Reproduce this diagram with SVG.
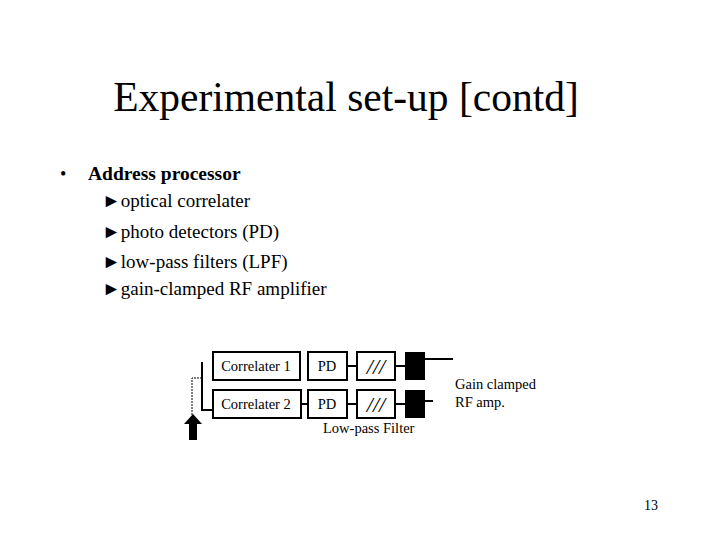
<svg xmlns="http://www.w3.org/2000/svg" width="720" height="540" viewBox="0 0 720 540">
<style>
text{font-family:"Liberation Serif",serif;fill:#000}
.b{fill:#fff;stroke:#000;stroke-width:2}
.k{fill:#000}
.l{stroke:#000;stroke-width:2;fill:none}
.s{font-size:14.5px}
.f{font-size:22px;font-style:italic}
.m{font-size:19px}
</style>
<rect width="720" height="540" fill="#fff"/>
<text x="346" y="111" font-size="41.5" text-anchor="middle">Experimental set-up [contd]</text>
<text x="60" y="180" font-size="18">•</text>
<text x="88" y="180" font-size="19.5" font-weight="bold">Address processor</text>
<text class="m" x="102" y="207">►optical correlater</text>
<text class="m" x="102" y="238">►photo detectors (PD)</text>
<text class="m" x="102" y="268">►low-pass filters (LPF)</text>
<text class="m" x="102" y="295">►gain-clamped RF amplifier</text>
<g id="connectors">
<path class="l" d="M202 362V410H213"/>
<path d="M192 415V378H202" stroke="#000" stroke-width="1" stroke-dasharray="2,1" fill="none"/>
<path class="l" d="M300 404H308M347 366H357M347 404H357M395 366H405M395 404H405M425 359H453M425 401H433"/>
</g>
<g id="arrow"><polygon class="k" points="193,414 184,424 189,424 189,440 197,440 197,424 202,424"/></g>
<g id="corr1"><rect class="b" x="213" y="352" width="87" height="28"/><text class="s" x="256" y="371" text-anchor="middle">Correlater 1</text></g>
<g id="corr2"><rect class="b" x="213" y="390" width="88" height="28"/><text class="s" x="256" y="409" text-anchor="middle">Correlater 2</text></g>
<g id="pd1"><rect class="b" x="308" y="352" width="39" height="28"/><text class="s" x="327" y="371" text-anchor="middle">PD</text></g>
<g id="pd2"><rect class="b" x="308" y="390" width="39" height="28"/><text class="s" x="327" y="409" text-anchor="middle">PD</text></g>
<g id="lpf1"><rect class="b" x="357" y="352" width="38" height="28"/><text class="f" x="376" y="374" text-anchor="middle">///</text></g>
<g id="lpf2"><rect class="b" x="357" y="390" width="38" height="28"/><text class="f" x="376" y="412" text-anchor="middle">///</text></g>
<g id="amp1"><rect class="k" x="405" y="352" width="20" height="28"/></g>
<g id="amp2"><rect class="k" x="405" y="390" width="20" height="28"/></g>
<text class="s" x="455" y="389">Gain clamped</text>
<text class="s" x="455" y="407">RF amp.</text>
<text class="s" x="323" y="433">Low-pass Filter</text>
<text x="658" y="510" font-size="14" text-anchor="end">13</text>
</svg>
